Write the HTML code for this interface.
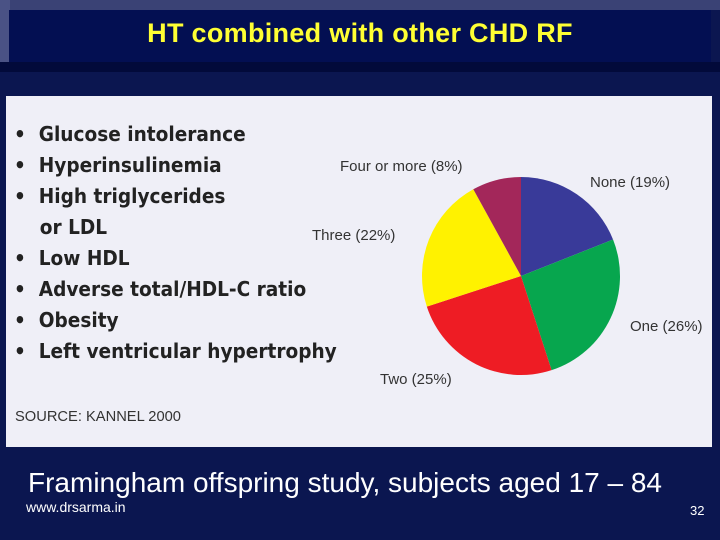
<!DOCTYPE html>
<html><head><meta charset="utf-8"><style>
body{margin:0;width:720px;height:540px;overflow:hidden;background:#0b1650;font-family:"Liberation Sans",sans-serif;position:relative}
.a{position:absolute}
</style></head><body>
<div class="a" style="left:0;top:0;width:720px;height:10px;background:#3a4275"></div>
<div class="a" style="left:0;top:0;width:10px;height:72px;background:#4a5285"></div>
<div class="a" style="left:9px;top:10px;width:702px;height:52px;background:#030f52"></div>
<div class="a" style="left:0;top:62px;width:720px;height:10px;background:#020a3a"></div>
<div class="a" style="left:0;top:18px;width:720px;text-align:center;color:#ffff33;font-weight:bold;font-size:27px;letter-spacing:0.3px">HT combined with other CHD RF</div>
<div class="a" style="left:6px;top:96px;width:708px;height:351px;background:#efeff7"></div>
<div class="a" style="left:14px;top:119px;font-size:20.6px;font-weight:bold;color:#222;line-height:31px;font-family:'DejaVu Sans Condensed','Liberation Sans',sans-serif">
<div>•&nbsp;&nbsp;Glucose intolerance</div><div>•&nbsp;&nbsp;Hyperinsulinemia</div><div>•&nbsp;&nbsp;High triglycerides</div><div>&nbsp;&nbsp;&nbsp;&nbsp;or LDL</div><div>•&nbsp;&nbsp;Low HDL</div><div>•&nbsp;&nbsp;Adverse total/HDL-C ratio</div><div>•&nbsp;&nbsp;Obesity</div><div>•&nbsp;&nbsp;Left ventricular hypertrophy</div></div>
<div class="a" style="left:15px;top:409px;font-size:14.7px;color:#333">SOURCE: KANNEL 2000</div>
<svg class="a" style="left:0;top:0" width="720" height="540">
<g id="pie"></g>
<g font-family="Liberation Sans, sans-serif" font-size="15" fill="#333">
<text x="340" y="171">Four or more (8%)</text>
<text x="590" y="187">None (19%)</text>
<text x="312" y="240">Three (22%)</text>
<text x="630" y="331">One (26%)</text>
<text x="380" y="384">Two (25%)</text>
</g></svg>
<div class="a" style="left:712px;top:96px;width:8px;height:351px;background:#0b1650"></div>
<div class="a" style="left:28px;top:467px;color:#fff;font-size:28px">Framingham offspring study, subjects aged 17 – 84</div>
<div class="a" style="left:26px;top:499px;color:#fff;font-size:14px">www.drsarma.in</div>
<div class="a" style="left:690px;top:503px;color:#fff;font-size:13px">32</div>
<script>
const categories=["None","One","Two","Three","Four or more"];
const values=[19,26,25,22,8];
const colors=["#393a99","#07a64e","#ee1c24","#fff200","#a3275a"];
const cx=521,cy=276,r=99;
const g=document.getElementById('pie');
const total=values.reduce((a,b)=>a+b,0);
let ang=0;
values.forEach((v,i)=>{
 const a0=ang/total*2*Math.PI, a1=(ang+v)/total*2*Math.PI; ang+=v;
 const x0=cx+r*Math.sin(a0),y0=cy-r*Math.cos(a0),x1=cx+r*Math.sin(a1),y1=cy-r*Math.cos(a1);
 const p=document.createElementNS('http://www.w3.org/2000/svg','path');
 p.setAttribute('d',`M${cx},${cy}L${x0},${y0}A${r},${r} 0 ${a1-a0>Math.PI?1:0} 1 ${x1},${y1}Z`);
 p.setAttribute('fill',colors[i]);
 
 
 g.appendChild(p);
});
</script>
</body></html>
